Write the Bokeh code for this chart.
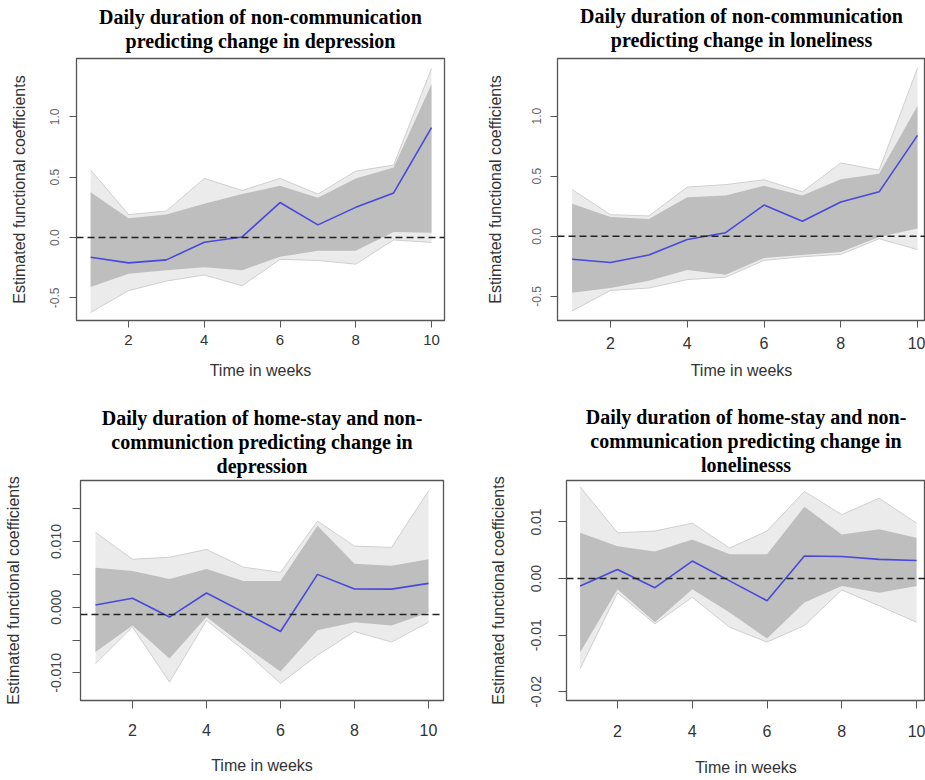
from bokeh.plotting import figure
from bokeh.layouts import row, column
from bokeh.models import Range1d, FixedTicker, PrintfTickFormatter, Span, Title
from bokeh.embed import file_html
from bokeh.resources import INLINE

# ---------------- data ----------------
weeks = [1, 2, 3, 4, 5, 6, 7, 8, 9, 10]
x_ticks = [2, 4, 6, 8, 10]

# Panel 1: non-communication -> depression
p1_title = ["Daily duration of non-communication", "predicting change in depression"]
p1_mean = [-0.163, -0.21, -0.185, -0.039, 0.005, 0.29, 0.105, 0.25, 0.37, 0.91]
p1_upper = [0.375, 0.16, 0.19, 0.28, 0.36, 0.43, 0.33, 0.49, 0.58, 1.27]
p1_lower = [-0.41, -0.30, -0.27, -0.245, -0.27, -0.16, -0.11, -0.11, 0.045, 0.04]
p1_upper_ext = [0.56, 0.19, 0.22, 0.49, 0.39, 0.49, 0.36, 0.55, 0.60, 1.40]
p1_lower_ext = [-0.62, -0.44, -0.36, -0.31, -0.40, -0.18, -0.19, -0.22, -0.02, -0.04]
p1_hline = 0.0
p1_yticks = [-0.5, 0.0, 0.5, 1.0]

# Panel 2: non-communication -> loneliness
p2_title = ["Daily duration of non-communication", "predicting change in loneliness"]
p2_mean = [-0.19, -0.217, -0.155, -0.027, 0.03, 0.26, 0.125, 0.285, 0.37, 0.84]
p2_upper = [0.27, 0.16, 0.145, 0.325, 0.34, 0.42, 0.34, 0.475, 0.52, 1.085]
p2_lower = [-0.47, -0.43, -0.37, -0.28, -0.32, -0.18, -0.155, -0.13, -0.005, 0.065]
p2_upper_ext = [0.39, 0.18, 0.17, 0.41, 0.43, 0.47, 0.37, 0.61, 0.55, 1.40]
p2_lower_ext = [-0.62, -0.45, -0.43, -0.36, -0.34, -0.20, -0.17, -0.15, -0.02, -0.11]
p2_hline = 0.0
p2_yticks = [-0.5, 0.0, 0.5, 1.0]

# Panel 3: home-stay and non-communication -> depression
p3_title = ["Daily duration of home-stay and non-", "communiction predicting change in", "depression"]
p3_mean = [0.00035, 0.00136, -0.0015, 0.00217, -0.00075, -0.0037, 0.005, 0.00277, 0.00275, 0.00363]
p3_upper = [0.0060, 0.0055, 0.0043, 0.0058, 0.0040, 0.0040, 0.0124, 0.0066, 0.0063, 0.0073]
p3_lower = [-0.0068, -0.0028, -0.0078, -0.0015, -0.0058, -0.0098, -0.0035, -0.0023, -0.0028, -0.0008]
p3_upper_ext = [0.0114, 0.0073, 0.0076, 0.0088, 0.0061, 0.0053, 0.0131, 0.0093, 0.0091, 0.0177]
p3_lower_ext = [-0.0086, -0.0030, -0.0114, -0.0020, -0.0065, -0.0116, -0.0073, -0.0037, -0.0053, -0.0023]
p3_hline = -0.0011
p3_yticks = [-0.010, 0.0, 0.010]
p3_yminor = [-0.005, 0.005, 0.015]

# Panel 4: home-stay and non-communication -> loneliness
p4_title = ["Daily duration of home-stay and non-", "communication predicting change in", "lonelinesss"]
p4_mean = [-0.0013, 0.0016, -0.0016, 0.0031, -0.0004, -0.0039, 0.0040, 0.0039, 0.0034, 0.0032]
p4_upper = [0.0081, 0.0057, 0.0048, 0.0069, 0.0043, 0.0043, 0.0127, 0.0078, 0.0087, 0.0072]
p4_lower = [-0.0130, -0.0019, -0.0077, -0.0019, -0.0060, -0.0106, -0.0042, -0.0013, -0.0025, -0.0013]
p4_upper_ext = [0.0162, 0.0081, 0.0084, 0.0098, 0.0054, 0.0084, 0.0154, 0.0113, 0.0142, 0.0098]
p4_lower_ext = [-0.0159, -0.0025, -0.0080, -0.0033, -0.0086, -0.0112, -0.0083, -0.0020, -0.0048, -0.0077]
p4_hline = 0.0
p4_yticks = [-0.02, -0.01, 0.0, 0.01]

x_label = "Time in weeks"
y_label = "Estimated functional coefficients"

# ---------------- styling ----------------
SANS = "Liberation Sans"
SERIF = "Liberation Serif"
BOX = "#555555"
BAND = "#bebebe"
BAND_EXT = "#ebebeb"
BAND_EDGE = "#cfcfcf"
BLUE = "#4848dc"


def panel(title_lines, mean, lo, hi, lo_ext, hi_ext, hline, yticks, yminor, yfmt, cfg):
    p = figure(width=cfg["w"], height=cfg["h"],
               x_range=Range1d(*cfg["xr"]), y_range=Range1d(*cfg["yr"]),
               output_backend="svg", toolbar_location=None, title=None,
               min_border_left=cfg["bl"], min_border_right=cfg["br"],
               min_border_top=cfg["bt"], min_border_bottom=cfg["bb"])
    p.background_fill_color = "white"
    p.border_fill_color = "white"
    p.outline_line_color = BOX
    p.outline_line_width = 1.3
    p.xgrid.visible = False
    p.ygrid.visible = False

    # band of bootstrap curves: sparse outer envelope and dense core
    p.varea(x=weeks, y1=lo_ext, y2=hi_ext, fill_color=BAND_EXT)
    p.line(weeks, hi_ext, line_color=BAND_EDGE, line_width=1)
    p.line(weeks, lo_ext, line_color=BAND_EDGE, line_width=1)
    p.varea(x=weeks, y1=lo, y2=hi, fill_color=BAND)
    p.line(weeks, mean, line_color=BLUE, line_width=1.6)
    p.add_layout(Span(location=hline, dimension="width", line_color="#222222",
                      line_dash="7 4", line_width=1.5))

    # axes
    p.xaxis.ticker = FixedTicker(ticks=x_ticks)
    if yminor:
        p.yaxis.ticker = FixedTicker(ticks=yticks, minor_ticks=yminor)
    else:
        p.yaxis.ticker = FixedTicker(ticks=yticks)
    p.yaxis.formatter = PrintfTickFormatter(format=yfmt)
    p.xaxis.axis_label = x_label
    p.yaxis.axis_label = y_label
    for ax in p.axis:
        ax.axis_line_color = BOX
        ax.major_tick_line_color = BOX
        ax.minor_tick_line_color = BOX
        ax.major_tick_in = 0
        ax.major_tick_out = cfg["tick"]
        ax.minor_tick_in = 0
        ax.minor_tick_out = cfg["tick"] if yminor else 0
        ax.axis_label_text_font = SANS
        ax.axis_label_text_font_style = "normal"
        ax.axis_label_text_font_size = "16px"
        ax.axis_label_text_color = "#333333"
        ax.major_label_text_font = SANS
    p.xaxis.minor_tick_out = 0
    p.xaxis.major_label_text_font_size = cfg["xts"]
    p.xaxis.major_label_text_color = "#333333"
    p.xaxis.major_label_standoff = cfg["xls"]
    p.xaxis.axis_label_standoff = cfg["xas"]
    p.yaxis.major_label_text_font_size = cfg["yts"]
    p.yaxis.major_label_text_color = cfg["ytc"]
    p.yaxis.major_label_orientation = "vertical"
    p.yaxis.major_label_standoff = cfg["yls"]
    p.yaxis.axis_label_standoff = cfg["yas"]

    # small blank spacer between frame and title, then one centred Title per line
    p.add_layout(Title(text=" ", text_font_size=cfg["gap"], standoff=0), "above")
    for txt in reversed(title_lines):
        p.add_layout(Title(text=txt, align="center", text_font=SERIF, text_font_style="bold",
                           text_font_size="20px", text_color="black", standoff=0), "above")
    return p


cfg1 = dict(w=460, h=386, bl=76, br=16, bt=58, bb=66, xr=(0.627, 10.343), yr=(-0.687, 1.483),
            tick=7, xts="15px", xls=7, xas=14, yts="12px", ytc="#666666", yls=10, yas=20,
            gap="4px")
cfg2 = dict(w=465, h=386, bl=97, br=0, bt=58, bb=63, xr=(0.619, 10.208), yr=(-0.70, 1.479),
            tick=7, xts="16px", xls=9, xas=10, yts="12px", ytc="#666666", yls=9, yas=26,
            gap="6px")
cfg3 = dict(w=460, h=393, bl=80, br=17, bt=94, bb=78, xr=(0.595, 10.405), yr=(-0.0142, 0.01929),
            tick=8, xts="16px", xls=15, xas=18, yts="14px", ytc="#444444", yls=11, yas=27,
            gap="2px")
cfg4 = dict(w=465, h=393, bl=106, br=0, bt=92, bb=79, xr=(0.635, 10.24), yr=(-0.02153, 0.01733),
            tick=8, xts="16px", xls=16, xas=19, yts="14px", ytc="#444444", yls=17, yas=22,
            gap="3px")

f1 = panel(p1_title, p1_mean, p1_lower, p1_upper, p1_lower_ext, p1_upper_ext, p1_hline,
           p1_yticks, None, "%.1f", cfg1)
f2 = panel(p2_title, p2_mean, p2_lower, p2_upper, p2_lower_ext, p2_upper_ext, p2_hline,
           p2_yticks, None, "%.1f", cfg2)
f3 = panel(p3_title, p3_mean, p3_lower, p3_upper, p3_lower_ext, p3_upper_ext, p3_hline,
           p3_yticks, p3_yminor, "%.3f", cfg3)
f4 = panel(p4_title, p4_mean, p4_lower, p4_upper, p4_lower_ext, p4_upper_ext, p4_hline,
           p4_yticks, None, "%.2f", cfg4)

layout = column(row(f1, f2), row(f3, f4))
open("out.html", "w").write(file_html(layout, INLINE))
